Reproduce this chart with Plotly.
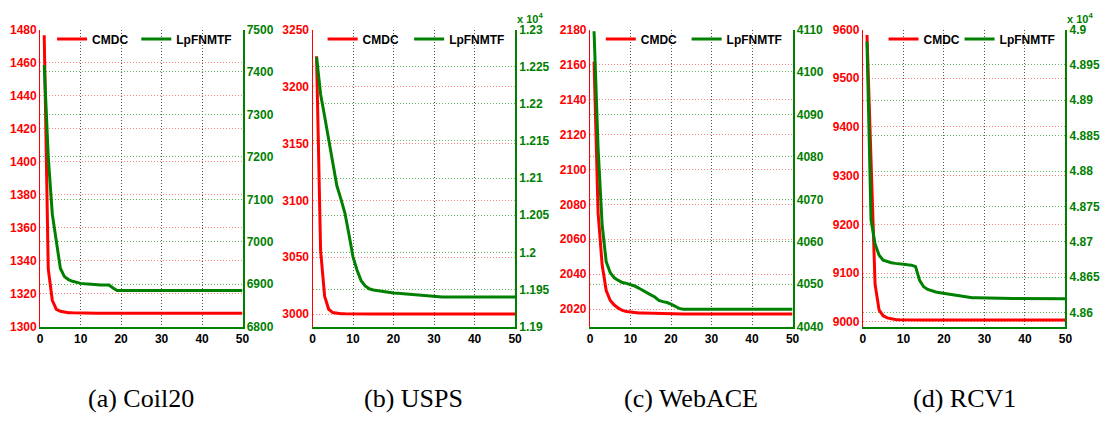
import plotly.graph_objects as go

# ---------------- data ----------------
iters = list(range(1, 51))

coil_cmdc = [1476.5, 1335, 1316, 1310.5, 1309.3, 1308.7, 1308.5, 1308.4, 1308.3, 1308.3,
             1308.2, 1308.2, 1308.2, 1308.2, 1308.2, 1308.2, 1308.2, 1308.2, 1308.2, 1308.2,
             1308.2, 1308.2, 1308.2, 1308.2, 1308.2, 1308.2, 1308.2, 1308.2, 1308.2, 1308.2,
             1308.2, 1308.2, 1308.2, 1308.2, 1308.2, 1308.2, 1308.2, 1308.2, 1308.2, 1308.2,
             1308.2, 1308.2, 1308.2, 1308.2, 1308.2, 1308.2, 1308.2, 1308.2, 1308.2, 1308.2]
coil_lpf = [7416, 7200, 7065, 6998, 6937, 6918, 6911, 6907, 6904, 6902,
            6901, 6900, 6899.5, 6899, 6898.5, 6898, 6898, 6891, 6885, 6885,
            6885, 6885, 6885, 6885, 6885, 6885, 6885, 6885, 6885, 6885,
            6885, 6885, 6885, 6885, 6885, 6885, 6885, 6885, 6885, 6885,
            6885, 6885, 6885, 6885, 6885, 6885, 6885, 6885, 6885, 6885]

usps_cmdc = [3226.5, 3056, 3015.5, 3004.3, 3001.4, 3000.6, 3000.4, 3000.3, 3000.2, 3000.2,
             3000.2, 3000.2, 3000.2, 3000.2, 3000.2, 3000.2, 3000.2, 3000.2, 3000.2, 3000.2,
             3000.2, 3000.2, 3000.2, 3000.2, 3000.2, 3000.2, 3000.2, 3000.2, 3000.2, 3000.2,
             3000.2, 3000.2, 3000.2, 3000.2, 3000.2, 3000.2, 3000.2, 3000.2, 3000.2, 3000.2,
             3000.2, 3000.2, 3000.2, 3000.2, 3000.2, 3000.2, 3000.2, 3000.2, 3000.2, 3000.2]
usps_lpf = [12263, 12213, 12183, 12152, 12118, 12090, 12072, 12053, 12024, 11994,
            11976, 11962, 11955, 11951, 11949.5, 11948.5, 11947.5, 11946.5, 11946, 11945.5,
            11945, 11944.5, 11944, 11943.5, 11943, 11942.3, 11941.6, 11941, 11940.5, 11940.2,
            11940, 11940, 11940, 11940, 11940, 11940, 11940, 11940, 11940, 11940,
            11940, 11940, 11940, 11940, 11940, 11940, 11940, 11940, 11940, 11940]

web_cmdc = [2161.6, 2075, 2045.4, 2030.7, 2025, 2022.4, 2020.6, 2019.3, 2018.7, 2018.3,
            2018.1, 2017.9, 2017.8, 2017.7, 2017.6, 2017.5, 2017.4, 2017.3, 2017.3, 2017.2,
            2017.2, 2017.2, 2017.2, 2017.2, 2017.2, 2017.2, 2017.2, 2017.2, 2017.2, 2017.2,
            2017.2, 2017.2, 2017.2, 2017.2, 2017.2, 2017.2, 2017.2, 2017.2, 2017.2, 2017.2,
            2017.2, 2017.2, 2017.2, 2017.2, 2017.2, 2017.2, 2017.2, 2017.2, 2017.2, 2017.2]
web_lpf = [4109.6, 4082, 4064, 4055.3, 4052.7, 4051.5, 4050.9, 4050.4, 4050.2, 4049.9,
           4049.6, 4049.1, 4048.5, 4047.9, 4047.5, 4047.0, 4046.2, 4045.9, 4045.7, 4045.3,
           4044.7, 4044.3, 4044.1, 4044.1, 4044.1, 4044.1, 4044.1, 4044.1, 4044.1, 4044.1,
           4044.1, 4044.1, 4044.1, 4044.1, 4044.1, 4044.1, 4044.1, 4044.1, 4044.1, 4044.1,
           4044.1, 4044.1, 4044.1, 4044.1, 4044.1, 4044.1, 4044.1, 4044.1, 4044.1, 4044.1]

rcv_cmdc = [9588.8, 9330, 9077, 9024, 9012.5, 9008, 9006, 9004.8, 9004.3, 9004,
            9004, 9004, 9004, 9004, 9004, 9004, 9004, 9004, 9004, 9004,
            9004, 9004, 9004, 9004, 9004, 9004, 9004, 9004, 9004, 9004,
            9004, 9004, 9004, 9004, 9004, 9004, 9004, 9004, 9004, 9004,
            9004, 9004, 9004, 9004, 9004, 9004, 9004, 9004, 9004, 9004]
rcv_lpf = [48983, 48731, 48697, 48681, 48674, 48672, 48670.5, 48669.5, 48668.5, 48668,
           48667.5, 48667, 48665, 48645.5, 48636.4, 48632.7, 48630.5, 48629, 48628, 48627,
           48626, 48625, 48624, 48623, 48622, 48621.5, 48621, 48620.8, 48620.6, 48620.5,
           48620.4, 48620.3, 48620.2, 48620.1, 48620, 48620, 48619.9, 48619.9, 48619.8, 48619.8,
           48619.7, 48619.7, 48619.6, 48619.6, 48619.5, 48619.5, 48619.5, 48619.5, 48619.5, 48619.5]

captions = ["(a) Coil20", "(b) USPS", "(c) WebACE", "(d) RCV1"]
series_names = ["CMDC", "LpFNMTF"]

left_ranges = [[1300, 1480], [2989, 3250], [2010, 2180], [8990, 9600]]
left_ticks = [[1300, 1320, 1340, 1360, 1380, 1400, 1420, 1440, 1460, 1480],
              [3000, 3050, 3100, 3150, 3200, 3250],
              [2020, 2040, 2060, 2080, 2100, 2120, 2140, 2160, 2180],
              [9000, 9100, 9200, 9300, 9400, 9500, 9600]]
right_ranges = [[6800, 7500], [11900, 12300], [4040, 4110], [48580, 49000]]
right_ticks = [[6800, 6900, 7000, 7100, 7200, 7300, 7400, 7500],
               [11900, 11950, 12000, 12050, 12100, 12150, 12200, 12250, 12300],
               [4040, 4050, 4060, 4070, 4080, 4090, 4100, 4110],
               [48600, 48650, 48700, 48750, 48800, 48850, 48900, 48950, 49000]]
right_ticktext = [["6800", "6900", "7000", "7100", "7200", "7300", "7400", "7500"],
                  ["1.19", "1.195", "1.2", "1.205", "1.21", "1.215", "1.22", "1.225", "1.23"],
                  ["4040", "4050", "4060", "4070", "4080", "4090", "4100", "4110"],
                  ["4.86", "4.865", "4.87", "4.875", "4.88", "4.885", "4.89", "4.895", "4.9"]]
has_exponent = [False, True, False, True]
x_ticks = [0, 10, 20, 30, 40, 50]

cmdc_all = [coil_cmdc, usps_cmdc, web_cmdc, rcv_cmdc]
lpf_all = [coil_lpf, usps_lpf, web_lpf, rcv_lpf]

# ---------------- layout geometry ----------------
W, H = 1116, 421
panel_px = [(37.5, 241.7), (312.3, 516.7), (592.3, 796.7), (867.7, 1072.0)]
legend_text_off = [(55.5, 140.5), (53.7, 141.0), (54.4, 141.0), (64.3, 141.0)]
top_px, bot_px = 23.3, 330.7
ydom = [1 - bot_px / H, 1 - top_px / H]

RED = "#ff0000"
GREEN = "#008000"
FONT = "Liberation Sans, Arial, sans-serif"
FS = 12
DOT = "1px,2px"

fig = go.Figure()
layout = dict(width=W, height=H, margin=dict(l=0, r=0, t=0, b=0),
              paper_bgcolor="white", plot_bgcolor="white",
              font=dict(family=FONT, size=FS, color="black", weight="bold"),
              annotations=[])

for i in range(4):
    n = i + 1
    xa = "x" if n == 1 else f"x{n}"
    ya_l = f"y{2*n-1}" if n > 1 else "y"
    ya_r = f"y{2*n}"
    lg_a = "legend" if n == 1 else f"legend{2*n-1}"
    lg_b = f"legend{2*n}"
    x0, x1 = panel_px[i]
    fig.add_trace(go.Scatter(x=iters, y=cmdc_all[i], mode="lines", name=series_names[0],
                             line=dict(color=RED, width=3), xaxis=xa, yaxis=ya_l,
                             legend=lg_a, showlegend=True))
    fig.add_trace(go.Scatter(x=iters, y=lpf_all[i], mode="lines", name=series_names[1],
                             line=dict(color=GREEN, width=3), xaxis=xa, yaxis=ya_r,
                             legend=lg_b, showlegend=True))
    xkey = "xaxis" if n == 1 else f"xaxis{n}"
    ylkey = "yaxis" if n == 1 else f"yaxis{2*n-1}"
    yrkey = f"yaxis{2*n}"
    layout[xkey] = dict(domain=[x0 / W, x1 / W], anchor=ya_l, range=[0, 50],
                        tickvals=x_ticks, showgrid=True, griddash=DOT,
                        gridcolor="rgba(40,40,40,0.8)", gridwidth=1,
                        showline=True, linecolor=GREEN, linewidth=1.5, zeroline=False,
                        ticks="", tickfont=dict(family=FONT, size=FS, color="black", weight="bold"))
    layout[ylkey] = dict(domain=ydom, anchor=xa, range=left_ranges[i], tickvals=left_ticks[i],
                         showgrid=True, griddash=DOT, gridcolor="rgba(255,80,80,0.7)",
                         gridwidth=1, showline=True, linecolor=RED, linewidth=1.2,
                         zeroline=False, ticks="",
                         tickfont=dict(family=FONT, size=FS, color=RED, weight="bold"))
    layout[yrkey] = dict(domain=ydom, anchor=xa, overlaying=ya_l, side="right",
                         range=right_ranges[i], tickvals=right_ticks[i],
                         ticktext=right_ticktext[i], showgrid=True, griddash=DOT,
                         gridcolor="rgba(30,150,30,0.7)", gridwidth=1,
                         showline=True, linecolor=GREEN, linewidth=1.5, zeroline=False,
                         ticks="",
                         tickfont=dict(family=FONT, size=FS, color=GREEN, weight="bold"))
    for lg, off in ((lg_a, legend_text_off[i][0]), (lg_b, legend_text_off[i][1])):
        layout[lg] = dict(orientation="h", x=(x0 + off - 43.5) / W, xanchor="left",
                          y=1 - 33 / H, yanchor="middle", bgcolor="rgba(0,0,0,0)",
                          itemwidth=30,
                          font=dict(family=FONT, size=FS, color="black", weight="bold"))
    layout["annotations"].append(dict(text=captions[i], xref="paper", yref="paper",
                                      x=(x0 + x1) / 2 / W, y=1 - 405 / H,
                                      xanchor="center", yanchor="middle", showarrow=False,
                                      font=dict(family="Liberation Serif, Times New Roman, serif",
                                                size=26, color="black", weight="normal")))
    if has_exponent[i]:
        layout["annotations"].append(dict(text="x 10<sup>4</sup>", xref="paper", yref="paper",
                                          x=(x1 + 0.5) / W, y=1 - 20 / H,
                                          xanchor="left", yanchor="bottom", showarrow=False,
                                          borderpad=0,
                                          font=dict(family=FONT, size=11, color=GREEN, weight="bold")))

fig.update_layout(**layout)
fig.write_html("out.html")
